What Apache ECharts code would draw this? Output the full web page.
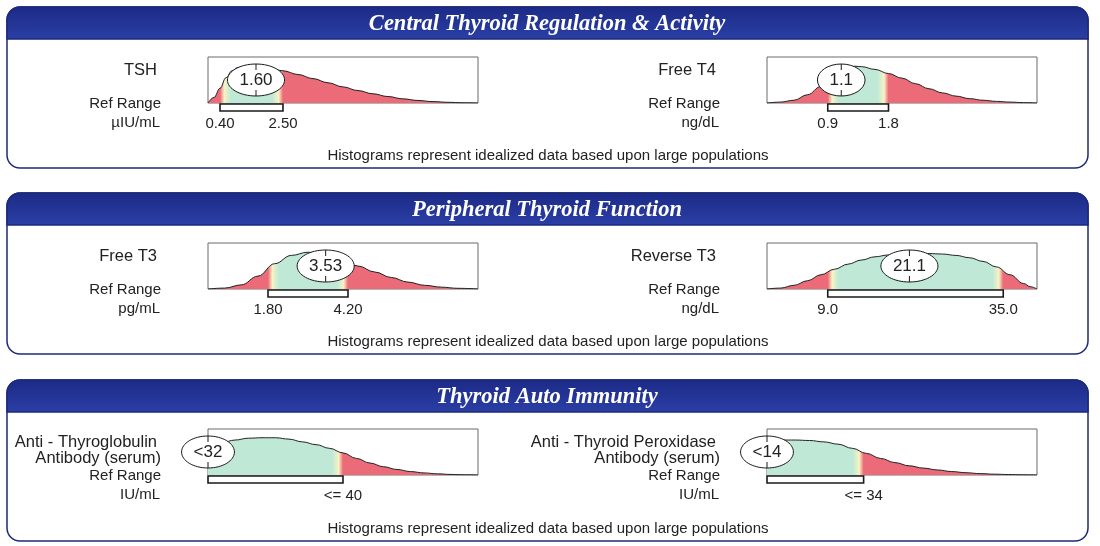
<!DOCTYPE html>
<html lang="en">
<head>
<meta charset="UTF-8">
<title>Thyroid histograms</title>
<style>
html, body { margin: 0; padding: 0; background: #fff; }
#chart { width: 1100px; height: 546px; }
</style>
</head>
<body>
<div id="chart"></div>
<script src="https://cdn.jsdelivr.net/npm/echarts@6/dist/echarts.min.js"></script>
<script>
// section titles
var sections = ['Central Thyroid Regulation & Activity', 'Peripheral Thyroid Function', 'Thyroid Auto Immunity'];

// one entry per test
var testNames = [['TSH'], ['Free T4'], ['Free T3'], ['Reverse T3'],
                 ['Anti - Thyroglobulin', 'Antibody (serum)'], ['Anti - Thyroid Peroxidase', 'Antibody (serum)']];
var units = ['\u00b5IU/mL', 'ng/dL', 'pg/mL', 'ng/dL', 'IU/mL', 'IU/mL'];
var results = ['1.60', '1.1', '3.53', '21.1', '<32', '<14'];
var refLow = [0.40, 0.9, 1.80, 9.0, 0, 0];
var refHigh = [2.50, 1.8, 4.20, 35.0, 40, 34];
var refLabels = [['0.40', '2.50'], ['0.9', '1.8'], ['1.80', '4.20'], ['9.0', '35.0'], ['', '<= 40'], ['', '<= 34']];
var axisMax = [9, 4, 8.1, 40, 80, 95];

// idealized population curves [value, relative height]
var tshCurve = [[0, 0], [0.2, 0.12], [0.4, 0.32], [0.6, 0.55], [0.8, 0.7], [1.0, 0.77], [1.3, 0.8], [1.6, 0.8],
  [2.0, 0.77], [2.5, 0.7], [3.0, 0.62], [3.5, 0.53], [4.0, 0.44], [4.5, 0.35], [5.0, 0.27], [5.5, 0.2],
  [6.0, 0.14], [6.5, 0.09], [7.0, 0.055], [7.5, 0.03], [8.0, 0.015], [8.5, 0.005], [9, 0]];
var ft4Curve = [[0, 0], [0.2, 0.02], [0.4, 0.06], [0.6, 0.18], [0.8, 0.36], [0.9, 0.46], [1.0, 0.58], [1.1, 0.7],
  [1.2, 0.77], [1.3, 0.8], [1.4, 0.79], [1.6, 0.73], [1.8, 0.64], [2.0, 0.54], [2.2, 0.42], [2.4, 0.31],
  [2.6, 0.22], [2.8, 0.15], [3.0, 0.095], [3.2, 0.06], [3.4, 0.035], [3.6, 0.02], [3.8, 0.008], [4.0, 0]];
var ft3Curve = [[0, 0], [0.5, 0.02], [1.0, 0.09], [1.5, 0.28], [2.0, 0.55], [2.5, 0.73], [3.0, 0.8], [3.5, 0.74],
  [4.0, 0.62], [4.5, 0.5], [5.0, 0.37], [5.5, 0.25], [6.0, 0.15], [6.5, 0.08], [7.0, 0.04], [7.5, 0.015], [8.1, 0]];
var rt3Curve = [[0, 0], [2, 0.02], [4, 0.08], [6, 0.18], [8, 0.31], [10, 0.43], [12, 0.54], [14, 0.63], [16, 0.7],
  [18, 0.74], [20, 0.76], [22, 0.77], [24, 0.77], [26, 0.76], [28, 0.73], [30, 0.68], [32, 0.6], [34, 0.48],
  [36, 0.31], [38, 0.12], [39, 0.05], [40, 0]];
var tgCurve = [[0, 0.62], [4, 0.7], [8, 0.76], [12, 0.8], [16, 0.81], [20, 0.81], [24, 0.78], [28, 0.72], [32, 0.66],
  [36, 0.58], [40, 0.48], [44, 0.36], [48, 0.26], [52, 0.18], [56, 0.12], [60, 0.075], [64, 0.045], [68, 0.025],
  [72, 0.012], [76, 0.005], [80, 0]];
var tpoCurve = [[0, 0.76], [5, 0.76], [10, 0.76], [15, 0.75], [20, 0.72], [25, 0.67], [30, 0.58], [35, 0.47],
  [40, 0.36], [45, 0.27], [50, 0.2], [55, 0.15], [60, 0.11], [65, 0.075], [70, 0.05], [75, 0.03], [80, 0.018],
  [85, 0.01], [90, 0.004], [95, 0]];
var curves = [tshCurve, ft4Curve, ft3Curve, rt3Curve, tgCurve, tpoCurve];

var RED = '#ec6b79', GREEN = '#bfe9d6', YELLOW = '#f8f3c4';
var SANS = '"Liberation Sans", Arial, sans-serif';
var colLeft = [208, 767];
var rowTop = [57, 243, 429];
var boxW = 270, boxH = 46;
var panelTop = [7, 193, 380];

var ctx = document.createElement('canvas').getContext('2d');
function textW(t, font) { ctx.font = font; return ctx.measureText(t).width; }

function areaGradient(i) {
  var d = axisMax[i], b = 0.04 * d, lo = refLow[i], hi = refHigh[i];
  var stops = [];
  if (lo > 0) {
    stops.push({offset: 0, color: RED}, {offset: lo / d, color: RED},
               {offset: (lo + b * 0.4) / d, color: YELLOW}, {offset: (lo + b) / d, color: GREEN});
  } else {
    stops.push({offset: 0, color: GREEN});
  }
  stops.push({offset: (hi - b) / d, color: GREEN}, {offset: (hi - b * 0.4) / d, color: YELLOW},
             {offset: hi / d, color: RED}, {offset: 1, color: RED});
  return new echarts.graphic.LinearGradient(0, 0, 1, 0, stops);
}

var grids = [], xAxes = [], yAxes = [], series = [], graphics = [];

sections.forEach(function (title, r) {
  var top = panelTop[r];
  graphics.push({
    type: 'rect', shape: {x: 7, y: top, width: 1081, height: 161, r: 13},
    style: {fill: '#fff', stroke: '#1d2a78', lineWidth: 1.5}, z: -10
  }, {
    type: 'rect', shape: {x: 7, y: top, width: 1081, height: 32, r: [13, 13, 0, 0]},
    style: {
      fill: new echarts.graphic.LinearGradient(0, 0, 0, 1, [{offset: 0, color: '#1c2a86'}, {offset: 1, color: '#2b3fa6'}]),
      stroke: '#1d2a78', lineWidth: 1.5
    }, z: -9
  }, {
    type: 'text', x: 547, y: top + 17, z: -8,
    style: {text: title, fill: '#fff', font: 'italic bold 22.5px "Liberation Serif", "Times New Roman", serif',
            align: 'center', verticalAlign: 'middle'}
  }, {
    type: 'text', x: 548, y: top + 149, z: -8,
    style: {text: 'Histograms represent idealized data based upon large populations', fill: '#222',
            font: '15px ' + SANS, align: 'center', verticalAlign: 'middle'}
  });
});

curves.forEach(function (curve, i) {
  var r = Math.floor(i / 2), c = i % 2;
  var left = colLeft[c], top = rowTop[r];
  var labelX = c === 0 ? 161 : 720;
  grids.push({left: left, top: top, width: boxW, height: boxH, show: true, z: 1,
              borderColor: '#6a6a6a', borderWidth: 1, backgroundColor: 'transparent'});
  xAxes.push({type: 'value', gridIndex: i, min: 0, max: axisMax[i], show: false});
  yAxes.push({type: 'value', gridIndex: i, min: 0, max: 1, show: false});

  // left-hand labels
  var names = testNames[i];
  names.forEach(function (n, k) {
    graphics.push({type: 'text', x: labelX - (k === 0 ? 4 : 0), y: top + 13 + k * 16, z: -8,
      style: {text: n, fill: '#222', font: '16.5px ' + SANS, align: 'right', verticalAlign: 'middle'}});
  });
  graphics.push({type: 'text', x: labelX, y: top + 47, z: -8,
    style: {text: 'Ref Range', fill: '#222', font: '15px ' + SANS, align: 'right', verticalAlign: 'middle'}});
  graphics.push({type: 'text', x: labelX - 1, y: top + 66, z: -8,
    style: {text: units[i], fill: '#222', font: '15px ' + SANS, align: 'right', verticalAlign: 'middle'}});

  series.push({
    type: 'line', xAxisIndex: i, yAxisIndex: i, data: curve, smooth: 0.4, smoothMonotone: 'x',
    symbol: 'none', silent: true, lineStyle: {color: '#222', width: 1},
    areaStyle: {color: areaGradient(i), opacity: 1}, z: 2
  });

  // reference range bracket
  series.push({
    type: 'custom', xAxisIndex: i, yAxisIndex: i, silent: true, z: 3,
    data: [[refLow[i], refHigh[i]]],
    renderItem: function (params, api) {
      var p1 = api.coord([api.value(0), 0]);
      var p2 = api.coord([api.value(1), 0]);
      var font = '15px ' + SANS;
      var kids = [{type: 'rect', shape: {x: p1[0], y: p1[1] + 1, width: p2[0] - p1[0], height: 7},
                   style: {fill: '#fff', stroke: '#1a1a1a', lineWidth: 1.6}}];
      [refLabels[i][0], refLabels[i][1]].forEach(function (t, k) {
        if (!t) return;
        kids.push({type: 'text', style: {text: t, x: k ? p2[0] : p1[0], y: p1[1] + 21, font: font,
                   fill: '#222', align: 'center', verticalAlign: 'middle'}});
      });
      return {type: 'group', children: kids};
    }
  });

  // patient result marker
  var res = results[i];
  var pos = res.charAt(0) === '<' ? 0 : parseFloat(res);
  series.push({
    type: 'custom', xAxisIndex: i, yAxisIndex: i, silent: true, z: 5,
    data: [[pos, 0.5]],
    renderItem: function (params, api) {
      var p = api.coord([api.value(0), api.value(1)]);
      var font = '17px ' + SANS;
      var rx = (textW(res, font) + 24) / 2, ry = 16;
      return {type: 'group', children: [
        {type: 'ellipse', shape: {cx: p[0], cy: p[1], rx: rx, ry: ry},
         style: {fill: '#fff', stroke: '#1a1a1a', lineWidth: 1}},
        {type: 'line', shape: {x1: p[0], y1: p[1] - ry, x2: p[0], y2: p[1] - ry + 6},
         style: {stroke: '#1a1a1a', lineWidth: 1}},
        {type: 'line', shape: {x1: p[0], y1: p[1] + ry - 6, x2: p[0], y2: p[1] + ry},
         style: {stroke: '#1a1a1a', lineWidth: 1}},
        {type: 'text', style: {text: res, x: p[0], y: p[1], font: font, fill: '#222',
         align: 'center', verticalAlign: 'middle'}}
      ]};
    }
  });
});

var chart = echarts.init(document.getElementById('chart'));
chart.setOption({
  animation: false,
  backgroundColor: '#fff',
  graphic: {elements: graphics},
  grid: grids,
  xAxis: xAxes,
  yAxis: yAxes,
  series: series
});
</script>
</body>
</html>
